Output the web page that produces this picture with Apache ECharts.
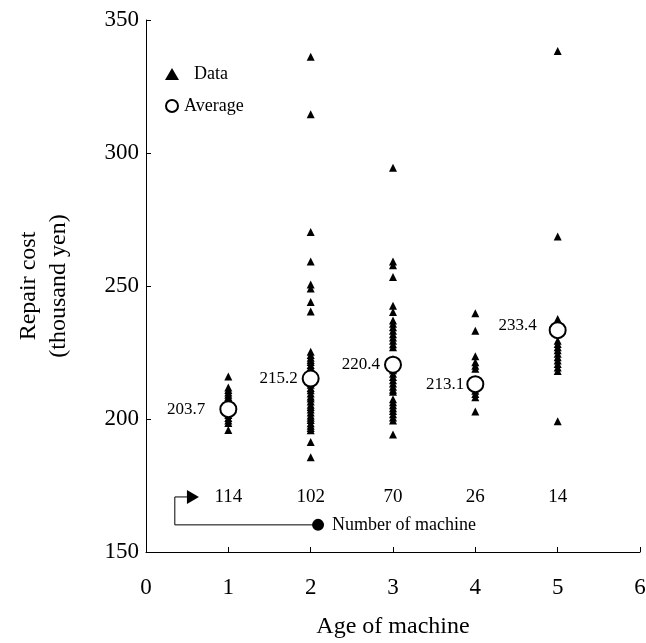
<!DOCTYPE html>
<html>
<head>
<meta charset="utf-8">
<script src="https://cdn.jsdelivr.net/npm/echarts@6/dist/echarts.min.js"></script>
<style>html,body{margin:0;padding:0;background:#fff}#c{width:646px;height:643px}</style>
</head>
<body>
<div id="c"></div>
<script>
// ---- data ----
const ages = [1, 2, 3, 4, 5];
const averages = [203.7, 215.2, 220.4, 213.1, 233.4];
const counts = ['114', '102', '70', '26', '14'];
const countLevel = 170.7;
const costAge1 = [216.0, 211.8, 210.9, 210.0, 209.1, 208.3, 206.0, 204.5, 203.0, 201.5, 200.4, 199.4, 198.5, 195.9];
const costAge2 = [336.2, 314.6, 270.3, 259.2, 250.6, 249.1, 244.0, 240.4,
  225.3, 224.1, 223.0, 222.2, 221.4, 220.3, 219.5, 218.6, 217.4, 216.2, 215.0, 213.8, 212.9, 211.7, 210.8,
  209.6, 208.5, 207.7, 206.6, 205.4, 204.5, 203.6, 202.4, 201.3, 200.5, 199.6, 198.4, 197.5, 196.6, 195.8,
  191.4, 185.6];
const costAge3 = [294.5, 259.2, 257.8, 253.4, 242.6, 240.2, 237.0, 235.8, 234.5, 233.2, 231.9, 230.6, 229.4,
  228.1, 227.0, 222.5, 221.0, 219.6, 218.3, 217.0, 215.8, 214.6, 213.3, 212.1, 211.0, 210.2,
  207.4, 206.3, 205.2, 204.0, 203.0, 201.8, 200.6, 199.4, 194.2];
const costAge4 = [239.8, 233.2, 223.6, 221.3, 220.0, 218.9, 210.6, 209.4, 208.2, 202.8];
const costAge5 = [338.3, 268.6, 237.6, 229.4, 228.2, 227.0, 225.8, 224.5, 223.2, 222.0, 220.7, 219.4, 218.0, 199.2];
// annotation path (dot -> corner -> corner -> arrow) in data units
const noteX = [2.09, 0.35, 0.35, 0.52];
const noteY = [160.2, 160.2, 170.7, 170.7];
const arrowTip = [0.57, 170.7];
const noteText = 'Number of machine';

// ---- build ----
const costs = [costAge1, costAge2, costAge3, costAge4, costAge5];
const dataPts = [];
costs.forEach((arr, i) => arr.forEach(v => dataPts.push([ages[i], v])));
const avgPts = ages.map((a, i) => [a, averages[i]]);
const labelDx = [-10, 0, 0, 2, -8];
const labelDy = [0, 0, 0, 0, -5];
const countPts = ages.map((a, i) => ({ value: [a, countLevel], label: { formatter: counts[i] } }));
const notePts = noteX.map((x, i) => [x, noteY[i]]);

const serif = 'Liberation Serif, Times New Roman, serif';
const chart = echarts.init(document.getElementById('c'));
chart.setOption({
  animation: false,
  grid: { left: 146, right: 6, top: 20, bottom: 91, containLabel: false, outerBoundsMode: 'none' },
  legend: {
    orient: 'vertical', left: 160, top: 60, itemGap: 14, itemWidth: 14, itemHeight: 12,
    textStyle: { fontFamily: serif, fontSize: 18, color: '#000' },
    data: [{ name: 'Data', textStyle: { padding: [0, 0, 0, 10] } }, { name: 'Average' }]
  },
  xAxis: {
    type: 'value', min: 0, max: 6, interval: 1,
    name: 'Age of machine', nameLocation: 'middle', nameGap: 63,
    nameTextStyle: { fontFamily: serif, fontSize: 24, color: '#000' },
    axisLine: { lineStyle: { color: '#000', width: 1 } },
    axisTick: { inside: true, length: 5, lineStyle: { color: '#000' } },
    axisLabel: { fontFamily: serif, fontSize: 23, color: '#000', margin: 24 },
    splitLine: { show: false }
  },
  yAxis: {
    type: 'value', min: 150, max: 350, interval: 50,
    name: 'Repair cost\n(thousand yen)', nameLocation: 'middle', nameGap: 72, nameRotate: 90,
    nameTextStyle: { fontFamily: serif, fontSize: 24, color: '#000', lineHeight: 30 },
    axisLine: { lineStyle: { color: '#000', width: 1 } },
    axisTick: { inside: true, length: 5, lineStyle: { color: '#000' } },
    axisLabel: { fontFamily: serif, fontSize: 23, color: '#000', margin: 7 },
    splitLine: { show: false }
  },
  series: [
    {
      name: 'Data', type: 'scatter', data: dataPts, symbol: 'triangle', symbolSize: [8, 8],
      itemStyle: { color: '#000', opacity: 1 }, z: 2
    },
    {
      name: 'Average', type: 'scatter', data: avgPts, symbol: 'circle', symbolSize: 16,
      itemStyle: { color: '#fff', borderColor: '#000', borderWidth: 2, opacity: 1 }, z: 3,
      label: {
        show: true, position: 'left', distance: 4, fontFamily: serif, fontSize: 17, color: '#000',
        formatter: p => averages[p.dataIndex].toFixed(1)
      },
      labelLayout: p => ({ dx: labelDx[p.dataIndex], dy: labelDy[p.dataIndex] })
    },
    {
      name: 'counts', type: 'scatter', data: countPts, symbolSize: 0, silent: true,
      itemStyle: { opacity: 1 },
      label: { show: true, position: 'inside', fontFamily: serif, fontSize: 19, color: '#000', opacity: 1 }
    },
    {
      name: 'note', type: 'line', data: notePts, showSymbol: false, symbol: 'none', silent: true,
      lineStyle: { color: '#000', width: 1 }
    },
    {
      name: 'noteDot', type: 'scatter', data: [notePts[0]], symbol: 'circle', symbolSize: 12,
      itemStyle: { color: '#000', opacity: 1 }, silent: true,
      label: { show: true, position: 'right', distance: 8, formatter: noteText, fontFamily: serif, fontSize: 18, color: '#000' }
    },
    {
      name: 'noteArrow', type: 'scatter', data: [arrowTip], symbol: 'triangle', symbolSize: [14, 12],
      symbolRotate: -90, itemStyle: { color: '#000', opacity: 1 }, silent: true
    }
  ]
});
</script>
</body>
</html>
